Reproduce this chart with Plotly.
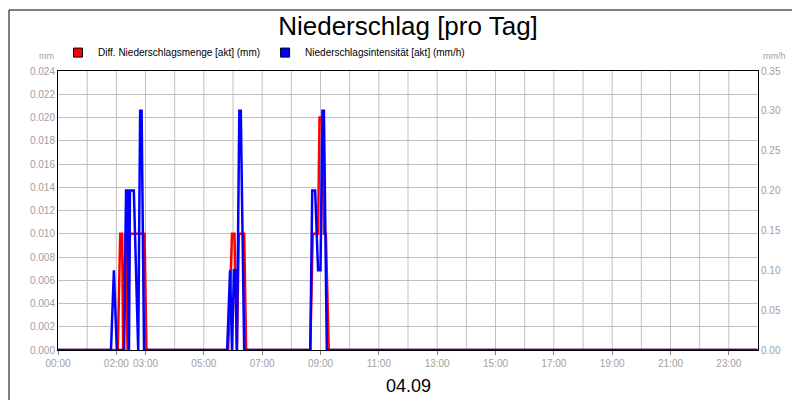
import plotly.graph_objs as go

day = '2024-09-04'

# Diff. Niederschlagsmenge [akt] (mm)
red_times = ['00:00', '02:03', '02:08', '02:12', '02:14', '02:19', '02:23', '02:28', '02:58', '03:02',
             '05:50', '05:58', '06:03', '06:08', '06:12', '06:23', '06:27',
             '08:39', '08:44', '08:55', '08:58', '09:03', '09:07', '09:11', '09:17', '23:59']
red_vals = [0, 0, 0.010, 0.010, 0, 0.010, 0, 0.010, 0.010, 0,
            0, 0.010, 0.010, 0, 0.010, 0.010, 0,
            0, 0.010, 0.010, 0.020, 0.020, 0.010, 0.010, 0, 0]

# Niederschlagsintensität [akt] (mm/h)
blue_times = ['00:00', '01:49', '01:55', '02:01', '02:16', '02:20', '02:23', '02:26', '02:28', '02:36', '02:45',
              '02:49', '02:52', '02:57',
              '05:48', '05:54', '05:58', '06:02', '06:05', '06:08', '06:13', '06:16', '06:23',
              '08:39', '08:43', '08:49', '08:55', '09:00', '09:04', '09:07', '09:13', '23:59']
blue_vals = [0, 0, 0.10, 0, 0, 0.20, 0.20, 0, 0.20, 0.20, 0,
             0.30, 0.30, 0,
             0, 0.10, 0, 0.10, 0.10, 0, 0.30, 0.30, 0,
             0, 0.20, 0.20, 0.10, 0.10, 0.30, 0.30, 0, 0]

tick_hours = [0, 2, 3, 5, 7, 9, 11, 13, 15, 17, 19, 21, 23]

fig = go.Figure()
fig.add_trace(go.Scatter(x=[f'{day} {t}' for t in red_times], y=red_vals, mode='lines',
                         line=dict(color='#ff0000', width=2.5), showlegend=False))
fig.add_trace(go.Scatter(x=[f'{day} {t}' for t in blue_times], y=blue_vals, mode='lines',
                         line=dict(color='#0000ff', width=2.5), yaxis='y2', showlegend=False))
# legend squares
fig.add_trace(go.Scatter(x=[None], y=[None], mode='markers', name='Diff. Niederschlagsmenge [akt] (mm)',
                         marker=dict(symbol='square', color='#ff0000', size=9, line=dict(color='black', width=1))))
fig.add_trace(go.Scatter(x=[None], y=[None], mode='markers', name='Niederschlagsintensität [akt] (mm/h)',
                         marker=dict(symbol='square', color='#0000ff', size=9, line=dict(color='black', width=1))))

grid = '#c0c0c0'
tickfont = dict(family='Liberation Sans, Arial', size=10, color='#a0a0a0')
fig.update_layout(
    width=800, height=400,
    margin=dict(l=50, r=50, t=63, b=58, autoexpand=False),
    paper_bgcolor='white', plot_bgcolor='white',
    font=dict(family='Liberation Sans, Arial'),
    title=dict(text='Niederschlag [pro Tag]', x=0.5, y=0.955, xanchor='center', yanchor='middle',
               font=dict(size=26, color='black')),
    legend=dict(orientation='h', x=0.0, y=1.066, xanchor='left', yanchor='middle',
                font=dict(size=10, color='black'), bgcolor='rgba(0,0,0,0)', itemwidth=30,
                tracegroupgap=0),
    xaxis=dict(type='date', range=[f'{day} 00:00', '2024-09-05 00:00'],
               tickvals=[f'{day} {h:02d}:00' for h in tick_hours],
               ticktext=[f'{h:02d}:00' for h in tick_hours],
               showgrid=False, tickfont=tickfont, ticks='outside', ticklen=4, tickcolor='#808080',
               showline=True, linecolor='black', linewidth=1, mirror=True, zeroline=False),
    yaxis=dict(range=[0, 0.024], dtick=0.002, tickformat='.3f', gridcolor=grid, tickfont=tickfont,
               showline=True, linecolor='black', mirror=True, zeroline=False),
    yaxis2=dict(range=[0, 0.35], dtick=0.05, tickformat='.2f', overlaying='y', side='right',
                showgrid=False, tickfont=tickfont, showline=True, linecolor='black', zeroline=False),
    shapes=[dict(type='rect', xref='paper', yref='paper', x0=-49 / 700, x1=749 / 700,
                 y0=-56 / 279, y1=1 + 61 / 279, line=dict(color='black', width=1))],
)
# hourly vertical gridlines
for h in range(1, 24):
    fig.add_vline(x=f'{day} {h:02d}:00', line=dict(color=grid, width=1), layer='below')

fig.add_annotation(text='mm', xref='paper', yref='paper', x=-0.003, y=1.054, showarrow=False,
                   xanchor='right', yanchor='middle', font=dict(size=9, color='#a0a0a0'))
fig.add_annotation(text='mm/h', xref='paper', yref='paper', x=1.043, y=1.054, showarrow=False,
                   xanchor='right', yanchor='middle', font=dict(size=9, color='#a0a0a0'))
fig.add_annotation(text='04.09', xref='paper', yref='paper', x=0.5, y=-0.129, showarrow=False,
                   xanchor='center', yanchor='middle', font=dict(size=18, color='black'))

fig.write_html('out.html')
